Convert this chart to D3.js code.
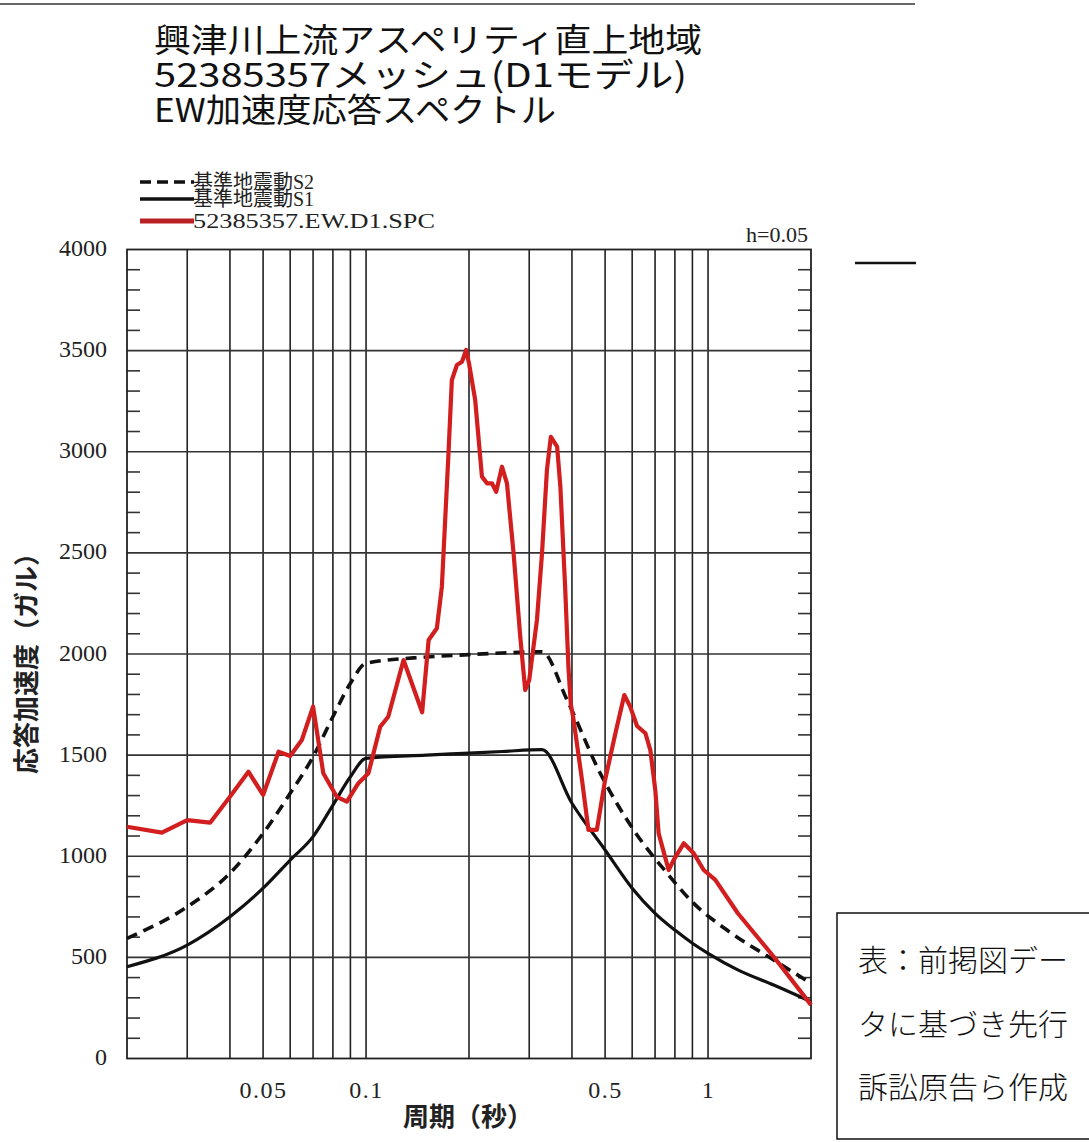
<!DOCTYPE html>
<head>
    <title>EW加速度応答スペクトル</title>
    <meta charset="utf-8">
    <style>
        body { margin: 0; background: #fff; }
        svg { display: block; }
        .title { font-family: "Noto Sans CJK JP", "Noto Sans", sans-serif; font-size: 33px; fill: #111; }
        .legend text { font-family: "Liberation Serif", "Noto Sans CJK JP", serif; font-size: 20px; fill: #222; }
        .axis text { font-family: "Liberation Serif", serif; font-size: 24px; fill: #222; }
        .axisTitle { font-family: "Noto Sans CJK JP", sans-serif; font-size: 26px; font-weight: 700; fill: #222; }
        .note { font-family: "Noto Sans CJK JP", sans-serif; font-size: 30px; font-weight: 300; fill: #111; }
    </style>
</head>

<body>
<div id="graph"></div>
</body>

<script src="https://d3js.org/d3.v7.min.js"></script>

<script>
    // chart data (period in s, acceleration in gal)
    var titleLines = ["興津川上流アスペリティ直上地域", "52385357メッシュ(D1モデル)", "EW加速度応答スペクトル"];
    var seriesNames = ["基準地震動S2", "基準地震動S1", "52385357.EW.D1.SPC"];

    var s2Period = [0.02, 0.03, 0.04, 0.05, 0.06, 0.07, 0.08, 0.09, 0.1, 0.15, 0.2, 0.25, 0.327, 0.387, 0.484, 0.606, 0.759, 0.908, 1.136, 1.556, 2.0];
    var s2Accel  = [594, 750, 916, 1113, 1311, 1492, 1690, 1855, 1954, 1985, 1997, 2005, 2011, 1773, 1410, 1130, 916, 767, 635, 487, 372];

    var s1Period = [0.02, 0.03, 0.04, 0.05, 0.06, 0.07, 0.08, 0.09, 0.1, 0.15, 0.2, 0.25, 0.327, 0.4, 0.5, 0.6, 0.7, 0.8, 0.9, 1.0, 1.222, 1.556, 2.0];
    var s1Accel  = [454, 561, 701, 842, 981, 1097, 1253, 1393, 1484, 1500, 1510, 1518, 1527, 1262, 1031, 842, 718, 635, 570, 520, 438, 363, 281];

    var spcPeriod = [0.02, 0.0253, 0.03, 0.035, 0.04, 0.0453, 0.05, 0.0555, 0.06, 0.0649, 0.07, 0.075, 0.0821, 0.0879, 0.095, 0.1016,
        0.110, 0.1161, 0.1287, 0.1459, 0.1524, 0.1611, 0.1666, 0.1742, 0.1782, 0.1844, 0.1908, 0.1962, 0.2, 0.2085, 0.2182,
        0.2257, 0.2334, 0.2402, 0.2497, 0.2582, 0.27, 0.2824, 0.292, 0.3, 0.316, 0.327, 0.338, 0.347, 0.362, 0.37, 0.382,
        0.391, 0.397, 0.404, 0.428, 0.447, 0.473, 0.5, 0.536, 0.569, 0.592, 0.62, 0.656, 0.678, 0.701, 0.717, 0.767, 0.793,
        0.849, 0.908, 0.971, 1.05, 1.222, 1.556, 2.0];
    var spcAccel  = [1146, 1117, 1179, 1166, 1294, 1418, 1303, 1517, 1496, 1575, 1740, 1410, 1294, 1270, 1361, 1410,
        1640, 1690, 1970, 1712, 2069, 2127, 2333, 2992, 3355, 3429, 3445, 3503, 3437, 3256, 2877,
        2844, 2844, 2802, 2926, 2844, 2498, 2086, 1822, 1871, 2168, 2498, 2910, 3074, 3025, 2827, 2333,
        1921, 1750, 1680, 1377, 1130, 1130, 1377, 1608, 1797, 1740, 1644, 1608, 1525, 1328, 1113, 932, 981,
        1064, 1015, 932, 883, 718, 503, 265];

    var gridPeriods = [0.03, 0.04, 0.05, 0.06, 0.07, 0.08, 0.09, 0.1, 0.2, 0.3, 0.4, 0.5, 0.6, 0.7, 0.8, 0.9, 1];
    var xTickValues = [0.05, 0.1, 0.5, 1];
    var xTickLabels = ["0.05", "0.1", "0.5", "1"];
    var yTickValues = [0, 500, 1000, 1500, 2000, 2500, 3000, 3500, 4000];
    var noteLines = ["表：前掲図デー", "タに基づき先行", "訴訟原告ら作成"];

    function zip(p, a) {
        return p.map(function(d, i) { return {t: d, a: a[i]}; });
    }

    function drawGraph() {
        var W = 1089, H = 1142;
        var left = 127, right = 811, top = 249.5, bottom = 1058.5;

        var svg = d3.select("#graph").append("svg")
            .attr("width", W)
            .attr("height", H);

        svg.append("rect").attr("width", W).attr("height", H).attr("fill", "#fff");

        var xScale = d3.scaleLog().domain([0.02, 2]).range([left, right]);
        var yScale = d3.scaleLinear().domain([0, 4000]).range([bottom, top]);

        // top rule and title
        svg.append("line")
            .attr("x1", 0).attr("x2", 915).attr("y1", 4).attr("y2", 4)
            .attr("stroke", "#666").attr("stroke-width", 2);

        var titleWidths = [548, 533, 402];
        svg.selectAll(".title")
            .data(titleLines)
            .enter().append("text")
            .attr("class", "title")
            .attr("x", 154)
            .attr("y", function(d, i) { return 52 + i * 35; })
            .attr("textLength", function(d, i) { return titleWidths[i]; })
            .attr("lengthAdjust", "spacingAndGlyphs")
            .text(function(d) { return d; });

        // grid
        svg.append("g").selectAll("line")
            .data(gridPeriods)
            .enter().append("line")
            .attr("x1", function(d) { return xScale(d); })
            .attr("x2", function(d) { return xScale(d); })
            .attr("y1", top).attr("y2", bottom)
            .attr("stroke", "#222").attr("stroke-width", 1.6);

        svg.append("g").selectAll("line")
            .data(yTickValues.slice(1, -1))
            .enter().append("line")
            .attr("x1", left).attr("x2", right)
            .attr("y1", function(d) { return yScale(d); })
            .attr("y2", function(d) { return yScale(d); })
            .attr("stroke", "#333").attr("stroke-width", 1.6);

        // minor ticks on both sides every 100
        var minor = d3.range(100, 4000, 100).filter(function(d) { return d % 500 != 0; });
        svg.append("g").selectAll("line")
            .data(minor)
            .enter().append("line")
            .attr("x1", left).attr("x2", left + 13)
            .attr("y1", function(d) { return yScale(d); })
            .attr("y2", function(d) { return yScale(d); })
            .attr("stroke", "#333").attr("stroke-width", 1.6);
        svg.append("g").selectAll("line")
            .data(minor)
            .enter().append("line")
            .attr("x1", right - 13).attr("x2", right)
            .attr("y1", function(d) { return yScale(d); })
            .attr("y2", function(d) { return yScale(d); })
            .attr("stroke", "#333").attr("stroke-width", 1.6);

        svg.append("rect")
            .attr("x", left).attr("y", top)
            .attr("width", right - left).attr("height", bottom - top)
            .attr("fill", "none").attr("stroke", "#222").attr("stroke-width", 1.8);

        // axes (labels only)
        var yAxis = svg.append("g")
            .attr("class", "axis")
            .attr("transform", "translate(" + left + ",0)")
            .call(d3.axisLeft(yScale).tickValues(yTickValues).tickSize(0).tickPadding(20).tickFormat(d3.format("d")));
        yAxis.select(".domain").remove();
        yAxis.selectAll("text").attr("dy", "0.25em");

        var xAxis = svg.append("g")
            .attr("class", "axis")
            .attr("transform", "translate(0," + bottom + ")")
            .call(d3.axisBottom(xScale).tickValues(xTickValues).tickSize(0).tickPadding(22)
                .tickFormat(function(d, i) { return xTickLabels[i]; }));
        xAxis.select(".domain").remove();
        xAxis.selectAll("text").attr("letter-spacing", "1.5px");

        svg.append("text")
            .attr("class", "axisTitle")
            .attr("x", 468).attr("y", 1126)
            .attr("text-anchor", "middle")
            .text("周期（秒）");

        svg.append("text")
            .attr("class", "axisTitle")
            .attr("transform", "translate(36,657) rotate(-90)")
            .attr("text-anchor", "middle")
            .text("応答加速度（ガル）");

        // lines
        var line = d3.line()
            .x(function(d) { return xScale(d.t); })
            .y(function(d) { return yScale(d.a); });
        var smooth = d3.line()
            .x(function(d) { return xScale(d.t); })
            .y(function(d) { return yScale(d.a); })
            .curve(d3.curveMonotoneX);

        svg.append("path")
            .datum(zip(s1Period, s1Accel))
            .attr("d", smooth)
            .attr("fill", "none").attr("stroke", "#111").attr("stroke-width", 3.2);

        svg.append("path")
            .datum(zip(s2Period, s2Accel))
            .attr("d", smooth)
            .attr("fill", "none").attr("stroke", "#111").attr("stroke-width", 3.6)
            .attr("stroke-dasharray", "11,7");

        svg.append("path")
            .datum(zip(spcPeriod, spcAccel))
            .attr("d", line)
            .attr("fill", "none").attr("stroke", "#d21e1e").attr("stroke-width", 4.2)
            .attr("stroke-linejoin", "round");

        // legend
        var legend = svg.append("g").attr("class", "legend");
        var legY = [182, 199, 221];
        var legWidths = [null, null, 242];
        var legStyle = [
            {color: "#111", dash: "11,6", w: 3.6},
            {color: "#111", dash: null, w: 3.6},
            {color: "#b82025", dash: null, w: 5}
        ];
        seriesNames.forEach(function(name, i) {
            legend.append("line")
                .attr("x1", 140).attr("x2", 194)
                .attr("y1", legY[i]).attr("y2", legY[i])
                .attr("stroke", legStyle[i].color)
                .attr("stroke-width", legStyle[i].w)
                .attr("stroke-dasharray", legStyle[i].dash);
            legend.append("text")
                .attr("x", 193).attr("y", legY[i] + 7)
                .attr("textLength", legWidths[i])
                .attr("lengthAdjust", "spacingAndGlyphs")
                .text(name);
        });
        legend.append("text")
            .attr("x", 808).attr("y", 242)
            .attr("text-anchor", "end")
            .style("font-size", "22px")
            .text("h=0.05");

        // stray mark on the right
        svg.append("line")
            .attr("x1", 855).attr("x2", 916).attr("y1", 263).attr("y2", 263)
            .attr("stroke", "#111").attr("stroke-width", 2.5);

        // note box
        svg.append("rect")
            .attr("x", 837).attr("y", 913)
            .attr("width", 260).attr("height", 226)
            .attr("fill", "#fff").attr("stroke", "#111").attr("stroke-width", 1.5);

        svg.selectAll(".note")
            .data(noteLines)
            .enter().append("text")
            .attr("class", "note")
            .attr("x", 858)
            .attr("y", function(d, i) { return 971 + i * 63.5; })
            .text(function(d) { return d; });
    }

    drawGraph();
</script>
